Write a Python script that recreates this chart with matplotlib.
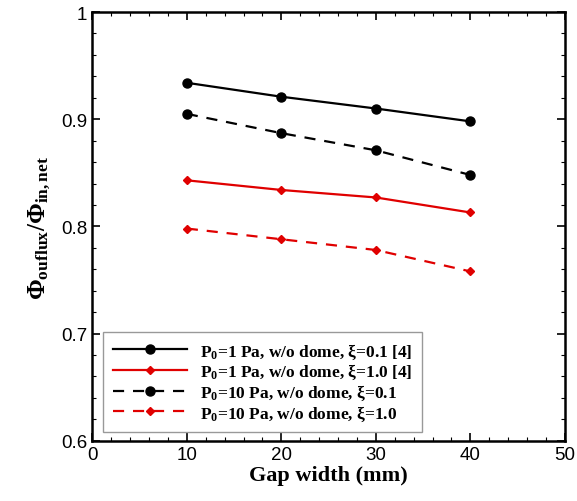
import matplotlib
matplotlib.use("Agg")
import matplotlib.pyplot as plt
from matplotlib.ticker import MultipleLocator

plt.rcParams.update({
    "mathtext.fontset": "custom",
    "mathtext.rm": "Liberation Serif:bold",
    "mathtext.it": "Liberation Serif:bold",
    "mathtext.bf": "Liberation Serif:bold",
})

# --- Data -------------------------------------------------------------------
gap_mm = [10, 20, 30, 40]
p1_xi01 = [0.934, 0.921, 0.910, 0.898]
p1_xi10 = [0.843, 0.834, 0.827, 0.813]
p10_xi01 = [0.905, 0.887, 0.871, 0.848]
p10_xi10 = [0.798, 0.788, 0.778, 0.758]

labels = [
    r"P$_0$=1 Pa, w/o dome, ξ=0.1 [4]",
    r"P$_0$=1 Pa, w/o dome, ξ=1.0 [4]",
    r"P$_0$=10 Pa, w/o dome, ξ=0.1",
    r"P$_0$=10 Pa, w/o dome, ξ=1.0",
]
RED = "#e00000"

fig = plt.figure(figsize=(5.77, 5.02), dpi=100)
ax = fig.add_axes([0.160, 0.120, 0.819, 0.854])

ax.plot(gap_mm, p1_xi01, "-", color="black", lw=1.6, marker="o", ms=6.5, label=labels[0])
ax.plot(gap_mm, p1_xi10, "-", color=RED, lw=1.6, marker="D", ms=4.5, label=labels[1])
ax.plot(gap_mm, p10_xi01, "--", color="black", lw=1.6, marker="o", ms=6.5,
        dashes=(5, 4), label=labels[2])
ax.plot(gap_mm, p10_xi10, "--", color=RED, lw=1.6, marker="D", ms=4.5,
        dashes=(5, 4), label=labels[3])

ax.set_xlim(0, 50)
ax.set_ylim(0.6, 1.0)
ax.xaxis.set_major_locator(MultipleLocator(10))
ax.xaxis.set_minor_locator(MultipleLocator(2))
ax.yaxis.set_minor_locator(MultipleLocator(0.02))
ax.set_yticks([0.6, 0.7, 0.8, 0.9, 1.0])
ax.set_yticklabels(["0.6", "0.7", "0.8", "0.9", "1"])
ax.tick_params(which="both", direction="in", top=True, right=True)
ax.tick_params(which="major", length=6, width=1.2, labelsize=13.5)
ax.tick_params(which="minor", length=3, width=0.8)
for lab in ax.get_xticklabels() + ax.get_yticklabels():
    lab.set_family("Liberation Sans")
for sp in ax.spines.values():
    sp.set_linewidth(1.8)

ax.set_xlabel("Gap width (mm)", family="Liberation Serif", fontweight="bold",
              fontsize=16, labelpad=2)
ax.set_ylabel(r"$\Phi_{ouflux}/\Phi_{in,net}$", family="Liberation Serif",
              fontsize=18, labelpad=6)

leg = ax.legend(loc="lower left", bbox_to_anchor=(0.012, 0.008), fancybox=False,
                edgecolor="0.6", framealpha=1, handlelength=4.3, borderpad=0.55,
                labelspacing=0.08, handletextpad=0.75, borderaxespad=0.3,
                prop={"family": "Liberation Serif", "weight": "bold", "size": 12.5})
leg.get_frame().set_linewidth(1.0)

fig.savefig("out.png", dpi=100)
